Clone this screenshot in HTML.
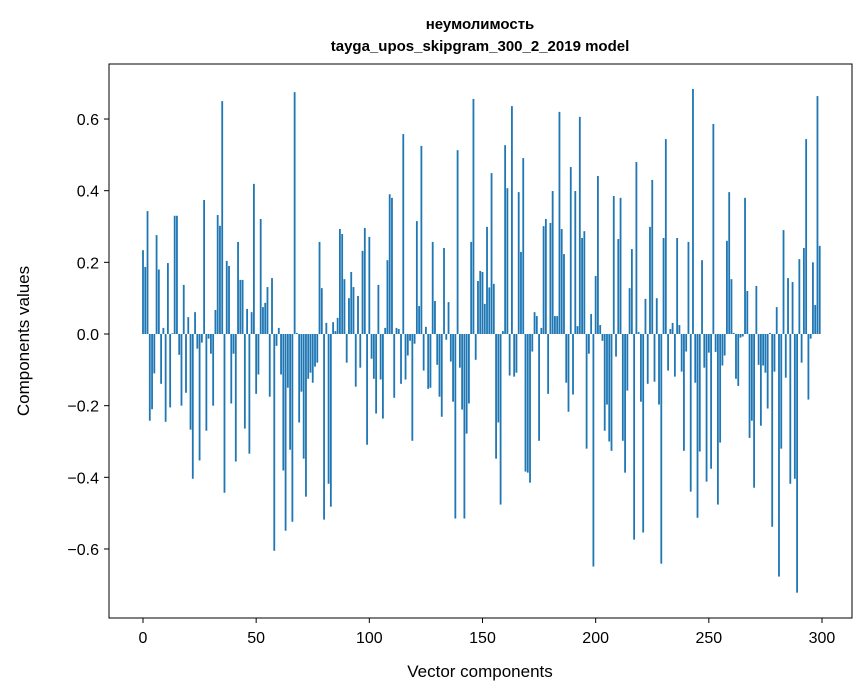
<!DOCTYPE html>
<html><head><meta charset="utf-8"><style>
body{margin:0;background:#fff;}
svg{display:block;font-family:"Liberation Sans","DejaVu Sans",sans-serif;}
</style></head><body>
<svg id="chart" width="867" height="696" viewBox="0 0 867 696" xmlns="http://www.w3.org/2000/svg">
<rect width="867" height="696" fill="#fff"/>
<text x="480" y="29" text-anchor="middle" font-size="15" font-weight="bold">неумолимость</text>
<text x="480" y="51" text-anchor="middle" font-size="15" font-weight="bold">tayga_upos_skipgram_300_2_2019 model</text>
<g id="bars"></g>
<rect x="109" y="64" width="743" height="554" fill="none" stroke="#000" stroke-width="1"/>
<g id="xticks"></g>
<g id="yticks"></g>
<text x="480" y="677" text-anchor="middle" font-size="17">Vector components</text>
<text transform="translate(29,341) rotate(-90)" text-anchor="middle" font-size="17">Components values</text>
</svg>
<script>
const values = [0.234,0.187,0.343,-0.242,-0.21,-0.11,0.276,0.18,-0.139,0.017,-0.245,0.198,-0.205,0.002,0.33,0.33,-0.058,-0.2,0.137,-0.164,0.047,-0.267,-0.404,0.061,-0.041,-0.353,-0.024,0.374,-0.27,-0.013,-0.055,-0.2,0.067,0.332,0.302,0.65,-0.443,0.204,0.19,-0.194,-0.055,-0.356,0.257,0.151,0.151,-0.264,0.07,-0.334,0.061,0.419,-0.167,
-0.113,0.321,0.075,0.087,0.131,-0.175,0.156,-0.605,-0.033,0.017,-0.113,-0.381,-0.549,-0.15,-0.323,-0.524,0.675,0.003,-0.247,-0.161,-0.348,-0.454,-0.125,-0.108,-0.136,-0.091,-0.08,0.257,0.128,-0.518,0.031,-0.418,-0.482,0.033,0.008,0.045,0.293,0.279,0.153,-0.08,0.1,0.173,0.131,-0.147,0.106,-0.094,0.232,0.296,-0.309,0.271,-0.069,
-0.125,-0.222,0.137,-0.127,-0.236,0.017,0.206,0.39,0.38,-0.178,0.017,0.014,-0.139,0.558,-0.127,-0.06,-0.019,-0.298,-0.027,0.315,0.078,0.525,-0.102,0.02,-0.153,-0.15,0.257,0.092,-0.086,-0.175,-0.231,0.24,-0.016,0.089,-0.077,-0.189,-0.515,0.513,-0.094,-0.211,-0.515,-0.278,-0.194,0.257,0.656,-0.072,0.148,0.176,0.173,0.084,0.299,
0.13,0.449,0.14,-0.348,-0.247,-0.476,0.008,0.527,0.407,-0.116,0.636,-0.119,-0.108,0.396,0.229,0.491,-0.384,-0.387,-0.415,-0.049,0.061,0.05,-0.298,0.017,0.301,0.321,-0.167,0.31,0.399,0.05,0.05,0.62,0.293,0.223,-0.136,-0.217,0.466,-0.169,0.399,0.022,0.606,0.268,0.287,-0.32,-0.055,0.056,-0.649,0.162,0.441,0.025,
-0.019,-0.27,-0.197,-0.3,-0.326,0.385,-0.063,0.265,0.38,-0.298,-0.387,-0.158,0.128,0.237,-0.574,0.48,0.005,-0.189,-0.554,0.098,-0.139,0.299,0.43,-0.133,0.1,-0.197,-0.641,0.268,0.544,-0.102,0.014,0.031,-0.119,0.268,0.025,-0.105,-0.326,-0.049,0.257,-0.44,0.684,-0.136,-0.513,-0.328,0.206,-0.094,-0.412,-0.052,-0.376,0.586,-0.05,
-0.476,-0.303,-0.088,-0.06,0.26,0.396,0.153,0.003,-0.125,-0.145,-0.01,-0.007,0.38,0.12,-0.29,-0.242,-0.429,0.134,-0.086,-0.256,-0.088,-0.108,-0.208,0.003,-0.538,-0.105,0.075,-0.677,-0.32,0.29,-0.122,0.156,-0.418,0.145,-0.404,-0.722,0.209,-0.08,0.24,0.544,-0.183,-0.013,0.2,0.081,0.664,0.246];
const xTicks = [0,50,100,150,200,250,300];
const yTicks = [-0.6,-0.4,-0.2,0.0,0.2,0.4,0.6];
const yTickLabels = ["\u22120.6","\u22120.4","\u22120.2","0.0","0.2","0.4","0.6"];

const NS="http://www.w3.org/2000/svg";
function xs(v){return 143+v*2.2633;}
function ys(v){return 334-v*358.3;}
const bars=document.getElementById('bars');
values.forEach((v,i)=>{
  const r=document.createElementNS(NS,'rect');
  const y0=ys(0), y1=ys(v);
  r.setAttribute('x',xs(i-0.4));
  r.setAttribute('width',xs(0.8)-xs(0));
  r.setAttribute('y',Math.min(y0,y1));
  r.setAttribute('height',Math.abs(y1-y0));
  r.setAttribute('fill','#1f77b4');
  
  
  bars.appendChild(r);
});
const xg=document.getElementById('xticks');
xTicks.forEach(t=>{
  const l=document.createElementNS(NS,'line');
  l.setAttribute('x1',xs(t));l.setAttribute('x2',xs(t));
  l.setAttribute('y1',618);l.setAttribute('y2',623);
  l.setAttribute('stroke','#000');
  
  
  xg.appendChild(l);
  const tx=document.createElementNS(NS,'text');
  tx.setAttribute('x',xs(t));tx.setAttribute('y',643);
  tx.setAttribute('text-anchor','middle');tx.setAttribute('font-size','16');
  tx.textContent=String(t);
  
  
  xg.appendChild(tx);
});
const yg=document.getElementById('yticks');
yTicks.forEach((t,k)=>{
  const l=document.createElementNS(NS,'line');
  l.setAttribute('x1',104);l.setAttribute('x2',109);
  l.setAttribute('y1',ys(t));l.setAttribute('y2',ys(t));
  l.setAttribute('stroke','#000');
  
  
  yg.appendChild(l);
  const tx=document.createElementNS(NS,'text');
  tx.setAttribute('x',99);tx.setAttribute('y',ys(t)+6);
  tx.setAttribute('text-anchor','end');tx.setAttribute('font-size','16');
  tx.textContent=yTickLabels[k];
  
  
  yg.appendChild(tx);
});
</script>
</body></html>
